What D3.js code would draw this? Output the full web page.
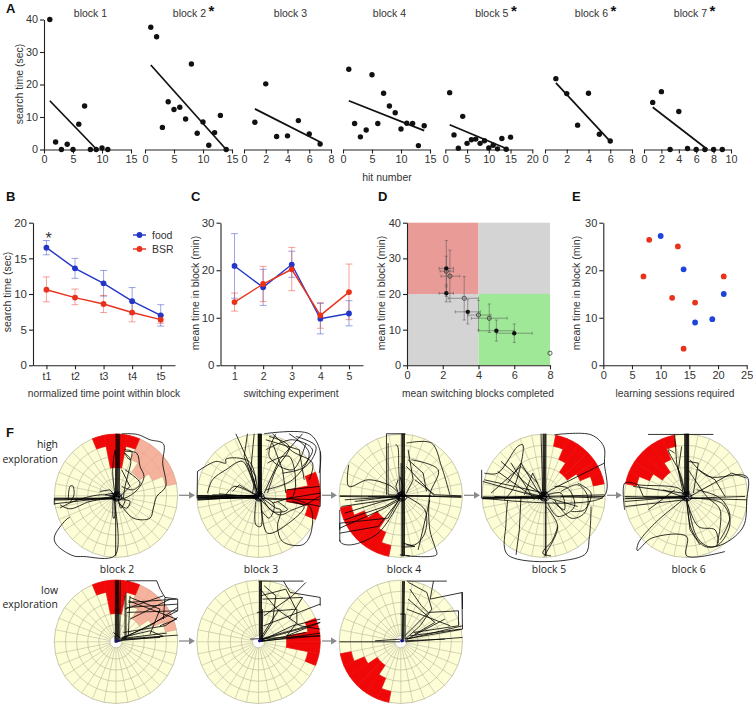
<!DOCTYPE html>
<html><head><meta charset="utf-8">
<script src="https://cdnjs.cloudflare.com/ajax/libs/d3/7.8.5/d3.min.js"></script>
<style>html,body{margin:0;padding:0;background:#fff}svg{display:block}
text{font-family:"Liberation Sans",Arial,sans-serif;fill:#333}
.axis path,.axis line{stroke:#222;stroke-width:1.1}
.axis text{fill:#333}
.f{font-family:"Open Sans","Noto Sans",sans-serif;fill:#222;font-size:10.4px}
</style></head><body><svg id="c" width="753" height="705"></svg>
<script>
// ---------- Panel A ----------
const blockNames=["block 1","block 2","block 3","block 4","block 5","block 6","block 7"];
const blockStar=[false,true,false,false,true,true,true];
const blockXMax=[15,15,8,15,20,8,10];
const blockXTicks=[[0,5,10,15],[0,5,10,15],[0,2,4,6,8],[0,5,10,15],[0,5,10,15,20],[0,2,4,6,8],[0,2,4,6,8,10]];
const blockTimes=[
 [40,2.3,0,1.6,0,7.8,13.4,0,0,0.5,0],
 [37.6,34.7,6.8,14.7,12.3,13,9.4,26.3,5,8.5,1.3,5.2,10.5,0],
 [8.4,20.2,4,4.2,8.9,4.8,1.7],
 [24.7,8,3.9,6,23,8,17.3,13.4,11.3,6.3,8.1,8,1.2,7.3],
 [17.5,4.5,0.4,10.2,1.9,3,3.2,1.9,2.7,0.5,1.3,0.2,3.4,0.1,3.8],
 [21.8,17.2,7.5,17.3,4.7,2.6],
 [14.5,17.8,0,11.7,0.3,0,0,0,0]];
const blockFits=[[1,15,9.1,0],[1,26,14,0],[1,12.5,7,2.3],[1,15,14,5.8],[1,7.6,14,0.3],[1,20.5,6,2.5],[1,13,7.3,0]];
// ---------- Panel B ----------
const timePoints=["t1","t2","t3","t4","t5"];
const foodB=[16.5,13.6,11.5,9.0,7.0];
const foodBLo=[15.5,12.2,9.7,7.2,5.5];
const foodBHi=[17.5,15,13.3,10.9,8.5];
const bsrB=[10.6,9.5,8.6,7.4,6.4];
const bsrBLo=[8.9,8.5,7.4,6.1,5.9];
const bsrBHi=[12.4,10.7,9.8,8.9,7];
// ---------- Panel C ----------
const experiments=[1,2,3,4,5];
const foodC=[20.9,16.4,21.2,9.8,10.9];
const foodCLo=[14.1,12.6,18.5,6.6,8.3];
const foodCHi=[27.7,20.2,24,13,13.6];
const bsrC=[13.3,17.1,20.2,10.5,15.4];
const bsrCLo=[11.4,13.4,15.7,7.8,9.6];
const bsrCHi=[15.2,20.8,24.8,13.2,21.3];
// ---------- Panel D: x, y, xLo, xHi, yLo, yHi ----------
const filledD=[[2.2,27.2,1.8,2.6,19.3,35],[2.2,20.2,1.8,2.6,17.8,22.6],[3.4,15,2.7,4.1,11.6,18.4],[5,9.7,4,6,6.8,12.7],[6,9,5,7,6.4,11.6]];
const openD=[[2.2,26.4,1.85,2.6,22,30.6],[2.4,25,1.9,2.95,17.8,32.3],[3.2,18.8,2.3,4,12.7,24.9],[4,14.1,3.4,4.7,9.9,18.2],[4.6,13.2,3.6,5.6,9.2,17.2],[8,3.4,8,8,3.4,3.4]];
const quadrantsD=[[0,4,20,40,"#e89b97"],[4,8,20,40,"#d4d4d4"],[0,4,0,20,"#d4d4d4"],[4,8,0,20,"#9fe897"]];
// ---------- Panel E ----------
const sessionsRed=[[8,26.4],[13,25],[7,18.7],[21,18.7],[12,14.2],[16,13.2],[14,3.5]];
const sessionsBlue=[[10,27.2],[14,20.2],[21,15],[16,9],[19,9.7]];
// ---------- Panel F: zones as [sector of 32, first band of 5] ----------
const zoneTop=[[30,4],[31,2],[0,2],[1,4]];
const zonePink=[[2,3],[3,2],[4,2],[5,3],[6,4]];
const zoneRight=[[6,4],[7,2],[8,2],[9,4]];
const zoneLowLeft=[[17,4],[18,3],[19,2],[20,2],[21,3],[22,4]];
const zoneUpRight=[[1,4],[2,3],[3,2],[4,2],[5,3],[6,4]];
const zoneUpLeft=[[25,4],[26,3],[27,2],[28,2],[29,3],[30,4]];
// Swim tracks, flat x,y lists read in arena units (centre 198,198; radius 185)
const centerKnot=[[185,190,210,206,190,210,208,186,192,202,206,212,186,205,200,184,214,198,184,198],[192,192,204,192,206,204,192,204,192,192],[180,200,198,188,216,204,198,214,180,200],[195,195,201,195,201,201,195,201,195,195]];
const tracksH2=[
[198,205,198,12],[200,200,200,12],[202,205,203,12],[205,200,206,12],[208,205,209,12],[196,200,196,60,188,120,195,195],[215,12,262,14,300,30,340,42,338,100,347,170,320,200,310,235,300,265,250,265,205,215],
[225,65,260,70,270,110,282,140,262,180,225,205,205,208],[225,70,242,90,235,130,225,170,220,205],[222,60,245,65,240,90,222,68],[205,210,240,214,230,235,205,220],[190,200,190,265,193,265,193,205],[197,205,197,378],[195,230,195,377,100,380,70,378,20,345,13,322,48,270,60,262],
[13,205,195,205],[13,208,120,207,195,204],[13,211,190,206],[13,222,120,210,195,200],[13,207,198,208],[13,205,13,225],[55,210,60,170,68,168,72,195,60,218],[30,235,70,215,150,195,195,200],[30,225,60,237,120,215,190,205],[150,185,180,180,195,198],[165,195,190,190,196,210],[205,205,212,235,225,210,205,200],[215,170,250,180,270,160,225,120],[205,205,240,170,215,120]];
const tracksH3=[
[198,200,198,12],[199.5,198,199.5,12],[201,200,201,12],[202.5,195,202.5,12],[204,198,204,12],[205.5,200,205.5,12],[197,195,197,12],[207,198,207,12],
[15,197,200,197],[15,199,200,199],[15,201,198,201],[15,203,200,203],[15,205,195,205],[15,207,190,204],[15,209,180,202],[15,211,185,200],[60,195,200,198],[80,192,200,203],[15,198,200,206],[15,204,200,196],
[130,12,165,90,195,190],[165,12,155,80,195,190],[185,12,175,120,195,190],[15,125,70,95,100,100,100,88,170,95,195,180],[15,125,14,205],[45,190,60,150,100,120,150,95,190,190],[120,185,140,165,190,195],[100,195,125,170,160,180,195,200],[165,100,190,140,180,190],
[215,12,350,12,383,65,380,130],[383,65,383,230,345,222],[240,12,300,65,360,100,350,150],[220,60,300,30,360,60,330,110],[240,40,270,120,280,190],[225,100,290,80,300,200,205,205],[330,12,260,90,215,190],[250,12,230,80,300,120,340,40],[290,12,350,70,300,150,220,180],[220,30,320,60,335,150],[230,20,290,50,250,120,225,190],[310,20,370,50,340,110,270,130],
[205,200,250,235,265,240,255,290,270,335,330,345,355,310,352,230,290,205],[205,210,225,310,295,275,335,230,300,215],[205,205,205,290,190,285,190,215],[205,210,260,255,300,240,340,225],[240,220,290,205,383,190],[215,205,380,210],[210,205,240,245,285,240,255,215],[283,180,380,170],[283,215,340,225,380,200],[210,200,245,225,230,265,205,240]];
const tracksH4=[
[201,12,201,380],[203,12,203,378],[205,12,205,380],[207,12,207,378],[209,12,209,378],[199,100,199,200],[155,12,212,12],[155,12,155,195],[160,40,160,195],[182,45,188,48,192,120,196,195],[190,150,183,170,195,200],[195,140,205,170,198,200],
[15,198,380,200],[15,200,195,203],[160,195,380,203],[100,200,290,198],[30,210,195,200],[20,230,195,205],[42,105,42,170,100,150,170,170,195,195],[15,240,15,300],[15,330,20,340,50,345,130,310,195,215],[15,280,160,265,195,205],[15,295,140,240,195,210],[15,310,130,290,190,215],[15,335,15,280],[30,250,110,225,195,200],[30,270,150,230,195,205],[60,215,140,205,195,198],
[215,40,290,40,320,110,345,195],[220,90,265,130,275,185],[215,110,300,200],[230,90,310,120,285,195,285,300,300,350,305,375,215,378],[215,200,270,240,270,310,240,345,215,345],[285,210,250,360],[205,340,240,350,205,352],[195,375,225,378],[240,150,300,195,380,198],[220,60,235,150,215,190]];
const tracksH5=[
[196,200,196,12],[198,195,198,12],[200,200,201,12],[202,195,203,12],[204,200,205,12],[190,12,195,190],[205,200,205,380],[203,205,203,378],[230,15,340,15,378,50,380,100,378,200,15,205],
[12,205,380,195],[15,207,195,205],[15,155,195,205],[12,120,12,205],[15,201,200,206],[15,206,200,197],[70,95,150,165,195,195],[20,130,60,130,120,50,135,45,110,170,80,210],[90,160,130,100,190,200],[40,190,130,110,180,160],[20,150,200,190],[60,125,150,190,195,200],[140,195,165,130,195,195],[100,100,170,210],[15,204,380,200],[50,200,190,204],
[90,210,85,280,90,375,320,375,335,320,340,230],[130,200,125,300,115,375],[205,230,240,290,205,370,200,380],[240,290,225,330,195,370,220,378],[230,170,270,175,290,230,240,260,210,220],[230,210,280,265,320,250,330,200,300,165,250,185],[215,205,300,230],[380,100,220,180,180,210],[210,195,250,190,260,240,225,215],[300,160,340,190,320,240,280,245],[250,200,375,205]];
const tracksH6=[
[196,200,196,12],[198,195,198,12],[200,200,200,12],[201.5,195,201.5,12],[203,200,203,12],[204.5,195,204.5,12],[206,200,206,12],[194,190,194,12],[84,14,280,14],[164,14,170,100,190,190],[164,70,145,60,180,130,195,190],[185,50,175,120,195,190],
[14,200,380,210],[14,240,14,160,40,160,55,165,175,175,195,195],[55,165,70,200,190,200],[16,205,200,205],[85,240,165,180],[14,215,200,200],[40,170,190,190],[130,180,185,200],[16,230,195,210],[14,207,200,201],
[195,205,105,280,55,340,52,362,95,325,200,320,200,378,315,365],[210,90,265,140,380,140,380,210,370,290,315,340,265,350,230,320,205,225],[200,205,215,300,255,350,295,345,330,280,305,220,210,205],[210,200,335,130,380,145],[200,210,235,290,285,300,295,340],[235,120,285,150,315,200],[205,95,235,100,220,190],[200,210,210,300,240,345],[210,205,375,200],[230,180,300,205,330,260,300,330],[205,120,260,200,300,240,290,350]];
const tracksL2=[
[196,198,196,14],[198,198,198,14],[200,198,200,14],[202,198,202,14],[204,198,204,14],[206,195,206,14],[209,195,211,14],[230,15,320,15,330,40,345,65,383,70,383,105,215,190],[225,60,225,190],[235,80,380,70],[230,110,383,105],[220,170,345,150,383,125],[205,195,340,182,300,165,215,185],[228,50,228,190],[240,60,235,180],[345,65,340,130],[240,130,360,70],[215,190,383,178],[210,192,330,185],[235,75,380,130,330,150],[225,100,340,60],[190,170,215,190],[195,180,195,200,215,195],[215,188,350,172],[218,186,300,150,383,95],[230,95,383,85],[240,65,330,100,300,175]];
const tracksL3=[
[201,198,201,16],[203,198,203,16],[205,198,205,16],[207,198,207,16],[210,198,210,100],[198,16,333,16],[273,16,293,50,383,65,383,90],[203,190,383,140],[213,150,383,85],[193,110,313,100,313,140,283,180],[203,40,253,100,323,150,383,160],[173,190,383,180],[208,195,383,180],[283,180,383,140],[205,60,280,40,310,100],[205,195,300,150,383,130],[205,196,340,170],[205,185,260,100],[208,197,383,172],[210,70,330,65,290,130],[215,120,300,60,340,20],[215,30,250,60,240,140,210,185],[205,192,340,155]];
const tracksL4=[
[201,198,203,16],[203,198,205,16],[205,198,207,16],[207,198,209,16],[216,16,336,16],[221,20,276,50,291,100,256,150,211,190],[296,16,286,70,383,50,383,100],[381,50,383,160,211,190],[376,160,226,180],[14,198,196,198],[121,195,198,190],[211,198,383,185],[196,115,211,115,211,190],[281,110,371,105,371,150,236,170],[216,100,346,150],[216,190,330,130],[210,195,330,190],[225,40,260,90,280,110,210,180],[220,70,300,140,240,175],[215,190,383,150]];
const arenas=[
 {cx:116,cy:495.8,red:[zoneTop],pink:zonePink,tracks:tracksH2,knot:1},
 {cx:258.5,cy:495.8,red:[zoneRight],tracks:tracksH3,knot:1},
 {cx:400.8,cy:495.8,red:[zoneLowLeft],tracks:tracksH4,knot:1},
 {cx:543.7,cy:495.8,red:[zoneUpRight],tracks:tracksH5,knot:1},
 {cx:686,cy:495.8,red:[zoneUpLeft],tracks:tracksH6,knot:1},
 {cx:116,cy:641.8,red:[zoneTop],pink:zonePink,tracks:tracksL2,mark:1},
 {cx:258.5,cy:641.8,red:[zoneRight],tracks:tracksL3,mark:1},
 {cx:400.8,cy:641.8,red:[zoneLowLeft],tracks:tracksL4,mark:1}];
const arrowSpans=[[179,195,495.3],[322,337,495.3],[464,480,495.3],[607,622,495.3],[179,195,641],[322,337,641]];
const arenaLabels=[["block 2",117],["block 3",261],["block 4",404],["block 5",549],["block 6",688.6]];

const svg=d3.select("#c");
const BLUE="#2336c8",RED="#e8321c";
function txt(x,y,s,o={}){const t=svg.append("text").attr("x",x).attr("y",y).text(s)
 .attr("text-anchor",o.a||"middle").attr("font-size",o.fs||10.5);
 if(o.b)t.attr("font-weight","bold").style("fill","#111");
 if(o.rot)t.attr("transform",`rotate(-90 ${x} ${y})`);
 if(o.cls)t.attr("class",o.cls).attr("font-size",null);return t;}
function axis(gen,tx,ty,fs=11){const g=svg.append("g").attr("class","axis").attr("transform",`translate(${tx},${ty})`).call(gen);
 g.selectAll("text").attr("font-size",fs).style("font-family",'"Liberation Sans",Arial,sans-serif');return g;}

[["A",6,13],["B",6,201],["C",191,201],["D",378,201],["E",572,201],["F",6,437]].forEach(d=>txt(d[1],d[2],d[0],{a:"start",fs:13,b:1}));

// Panel A
const aLeft=[44,145,244,343,445.3,545,644],aW=87;
const aY=d3.scaleLinear().domain([0,40]).range([149.5,19.5]);
blockNames.forEach((nm,i)=>{
 const x=d3.scaleLinear().domain([0,blockXMax[i]]).range([aLeft[i],aLeft[i]+aW]);
 axis(d3.axisBottom(x).tickValues(blockXTicks[i]).tickSize(4).tickSizeOuter(0).tickPadding(2),0,149.5,10.8);
 const f=blockFits[i];
 svg.append("line").attr("x1",x(f[0])).attr("y1",aY(f[1])).attr("x2",x(f[2])).attr("y2",aY(f[3])).attr("stroke","#111").attr("stroke-width",1.7);
 svg.append("g").selectAll("circle").data(blockTimes[i]).join("circle").attr("cx",(d,j)=>x(j+1)).attr("cy",d=>aY(d)).attr("r",2.7).attr("fill","#111");
 const mid=aLeft[i]+aW/2+(i==1?1:3);
 txt(mid,17,nm);
 if(blockStar[i]) txt(mid+22,16,"*",{fs:15,b:1});
});
axis(d3.axisLeft(aY).tickValues([0,10,20,30,40]).tickSize(4).tickSizeOuter(0).tickPadding(2),44,0,10.8);
txt(23,84,"search time (sec)",{rot:1});
txt(387,181,"hit number");

const lowBase=365.3,lowTop=222.7;
function errGroup(x,y,vals,lo,hi,col,cap){
 const g=svg.append("g").attr("stroke",col).attr("stroke-opacity",.45).attr("stroke-width",1).attr("fill","none");
 vals.forEach((v,i)=>{const X=x(i);g.append("line").attr("x1",X).attr("x2",X).attr("y1",y(lo[i])).attr("y2",y(hi[i]));
  [lo[i],hi[i]].forEach(e=>g.append("line").attr("x1",X-cap).attr("x2",X+cap).attr("y1",y(e)).attr("y2",y(e)));});
}
function series(x,y,vals,col){
 svg.append("path").attr("d",d3.line().x((d,i)=>x(i)).y(d=>y(d))(vals)).attr("fill","none").attr("stroke",col).attr("stroke-width",1.4);
 svg.append("g").selectAll("circle").data(vals).join("circle").attr("cx",(d,i)=>x(i)).attr("cy",d=>y(d)).attr("r",2.9).attr("fill",col);
}
// Panel B
const bScale=d3.scaleLinear().domain([-0.47,4.5]).range([33,175]);
const bY=d3.scaleLinear().domain([0,20]).range([lowBase,lowTop]);
axis(d3.axisBottom(bScale).tickValues([0,1,2,3,4]).tickFormat(i=>timePoints[i]).tickSize(4).tickSizeOuter(0).tickPadding(3),0,lowBase,10.5);
axis(d3.axisLeft(bY).tickValues([0,5,10,15,20]).tickSize(4).tickSizeOuter(0).tickPadding(2),33,0,11.5);
errGroup(bScale,bY,foodB,foodBLo,foodBHi,BLUE,3.5);errGroup(bScale,bY,bsrB,bsrBLo,bsrBHi,RED,3.5);
series(bScale,bY,foodB,BLUE);series(bScale,bY,bsrB,RED);
txt(48.7,244,"*",{fs:16});
[["food",235,BLUE],["BSR",249,RED]].forEach(d=>{
 svg.append("line").attr("x1",133).attr("x2",146).attr("y1",d[1]).attr("y2",d[1]).attr("stroke",d[2]).attr("stroke-width",1.4);
 svg.append("circle").attr("cx",139.5).attr("cy",d[1]).attr("r",2.9).attr("fill",d[2]);
 txt(152,d[1]+4,d[0],{a:"start",fs:10.5});});
txt(11,292,"search time (sec)",{rot:1});
txt(104,396.5,"normalized time point within block",{fs:10.2});
// Panel C
const cScale=d3.scaleLinear().domain([-0.49,4.49]).range([220.5,363]);
const cY=d3.scaleLinear().domain([0,30]).range([lowBase,lowTop]);
axis(d3.axisBottom(cScale).tickValues([0,1,2,3,4]).tickFormat(i=>experiments[i]).tickSize(4).tickSizeOuter(0).tickPadding(3),0,lowBase,10.5);
axis(d3.axisLeft(cY).tickValues([0,10,20,30]).tickSize(4).tickSizeOuter(0).tickPadding(2),220.5,0,11.5);
errGroup(cScale,cY,foodC,foodCLo,foodCHi,BLUE,3.5);errGroup(cScale,cY,bsrC,bsrCLo,bsrCHi,RED,3.5);
series(cScale,cY,foodC,BLUE);series(cScale,cY,bsrC,RED);
txt(199,293,"mean time in block (min)",{rot:1});
txt(291,396.5,"switching experiment",{fs:10.2});
// Panel D
const dX=d3.scaleLinear().domain([0,8]).range([407,550]);
const dY=d3.scaleLinear().domain([0,40]).range([lowBase,lowTop]);
quadrantsD.forEach(q=>svg.append("rect").attr("x",dX(q[0])).attr("y",dY(q[3])).attr("width",dX(q[1])-dX(q[0])).attr("height",dY(q[2])-dY(q[3])).attr("fill",q[4]));
axis(d3.axisBottom(dX).tickValues([0,2,4,6,8]).tickSize(4).tickSizeOuter(0).tickPadding(2),0,lowBase,11);
axis(d3.axisLeft(dY).tickValues([0,10,20,30,40]).tickSize(4).tickSizeOuter(0).tickPadding(2),407,0,11);
const dErr=svg.append("g").attr("stroke","#555").attr("stroke-opacity",.75).attr("stroke-width",.7);
filledD.concat(openD).filter(d=>d[3]>d[2]).forEach(d=>{
 dErr.append("line").attr("x1",dX(d[2])).attr("x2",dX(d[3])).attr("y1",dY(d[1])).attr("y2",dY(d[1]));
 dErr.append("line").attr("x1",dX(d[0])).attr("x2",dX(d[0])).attr("y1",dY(d[4])).attr("y2",dY(d[5]));
 [d[2],d[3]].forEach(e=>dErr.append("line").attr("x1",dX(e)).attr("x2",dX(e)).attr("y1",dY(d[1])-1.5).attr("y2",dY(d[1])+1.5));
 [d[4],d[5]].forEach(e=>dErr.append("line").attr("y1",dY(e)).attr("y2",dY(e)).attr("x1",dX(d[0])-1.5).attr("x2",dX(d[0])+1.5));
});
svg.append("g").selectAll("circle").data(openD).join("circle").attr("cx",d=>dX(d[0])).attr("cy",d=>dY(d[1])).attr("r",2.1).attr("fill","none").attr("stroke","#333").attr("stroke-width",.8);
svg.append("g").selectAll("circle").data(filledD).join("circle").attr("cx",d=>dX(d[0])).attr("cy",d=>dY(d[1])).attr("r",2.2).attr("fill","#111");
txt(385,293,"mean time in block (min)",{rot:1});
txt(478,396.5,"mean switching blocks completed",{fs:10.2});
// Panel E
const eX=d3.scaleLinear().domain([0,25]).range([603.3,746.7]);
const eY=d3.scaleLinear().domain([0,30]).range([lowBase,lowTop]);
axis(d3.axisBottom(eX).tickValues([0,5,10,15,20,25]).tickSize(4).tickSizeOuter(0).tickPadding(2),0,lowBase,11);
axis(d3.axisLeft(eY).tickValues([0,10,20,30]).tickSize(4).tickSizeOuter(0).tickPadding(2),603.3,0,11);
[[sessionsRed,"#e9321c"],[sessionsBlue,"#1f45d8"]].forEach(s=>svg.append("g").selectAll("circle").data(s[0]).join("circle").attr("cx",d=>eX(d[0])).attr("cy",d=>eY(d[1])).attr("r",2.9).attr("fill",s[1]));
txt(580,293,"mean time in block (min)",{rot:1});
txt(675,396.5,"learning sessions required",{fs:10.2});

// Panel F
const R=61.7,hole=6;
const bandR=d3.scaleLinear().domain([0,5]).range([hole,R]);
const sectorA=d3.scaleLinear().domain([0,32]).range([0,2*Math.PI]);
const arc=d3.arc();
const GRID="#b3b398";
arenas.forEach(A=>{
 const g=svg.append("g").attr("transform",`translate(${A.cx},${A.cy})`);
 g.append("circle").attr("r",R).attr("fill","#fdfdd6").attr("stroke",GRID).attr("stroke-width",.7);
 g.append("circle").attr("r",hole).attr("fill","#fff").attr("stroke",GRID).attr("stroke-width",.6);
 [1,2,3,4].forEach(b=>g.append("circle").attr("r",bandR(b)).attr("fill","none").attr("stroke",GRID).attr("stroke-width",.6));
 d3.range(32).forEach(s=>{const a=sectorA(s);
  g.append("line").attr("x1",hole*Math.sin(a)).attr("y1",-hole*Math.cos(a)).attr("x2",R*Math.sin(a)).attr("y2",-R*Math.cos(a)).attr("stroke",GRID).attr("stroke-width",.55);});
 const drawZone=(z,col,op,sw)=>z.forEach(c=>g.append("path").attr("d",arc({innerRadius:bandR(c[1]),outerRadius:R,startAngle:sectorA(c[0]),endAngle:sectorA(c[0]+1)})).attr("fill",col).attr("fill-opacity",op).attr("stroke",col).attr("stroke-opacity",op).attr("stroke-width",sw));
 if(A.pink)drawZone(A.pink,"#f39f8e",.8,.2);
 A.red.forEach(z=>drawZone(z,"#f00808",1,.7));
 const tx=d3.scaleLinear().domain([13,383]).range([-R,R]);
 const ty=d3.scaleLinear().domain([13,383]).range([-R,R]);
 const straight=d3.line().x(d=>tx(d[0])).y(d=>ty(d[1]));
 const curved=d3.line().x(d=>tx(d[0])).y(d=>ty(d[1])).curve(d3.curveCatmullRom.alpha(.5));
 (A.knot?A.tracks.concat(centerKnot):A.tracks).forEach(t=>{const pts=d3.range(0,t.length,2).map(i=>[t[i],t[i+1]]);
  const gen=(A.knot&&pts.length>3)?curved:straight;
  g.append("path").attr("d",gen(pts)).attr("fill","none").attr("stroke","#000").attr("stroke-width",.8).attr("stroke-linejoin","round");});
 if(A.mark)g.append("circle").attr("cx",1).attr("cy",-1).attr("r",1.6).attr("fill","#101090");
});
arrowSpans.forEach(a=>{
 svg.append("line").attr("x1",a[0]).attr("x2",a[1]-4).attr("y1",a[2]).attr("y2",a[2]).attr("stroke","#8a8a8a").attr("stroke-width",1.3);
 svg.append("path").attr("d",d3.line()([[a[1]-6,a[2]-3.5],[a[1],a[2]],[a[1]-6,a[2]+3.5]])).attr("fill","#8a8a8a");
});
arenaLabels.forEach(d=>txt(d[1],572.5,d[0],{cls:"f"}));
[["high",448],["exploration",462.5],["low",593.5],["exploration",608]].forEach(d=>txt(58,d[1],d[0],{a:"end",cls:"f"}));
</script></body></html>
